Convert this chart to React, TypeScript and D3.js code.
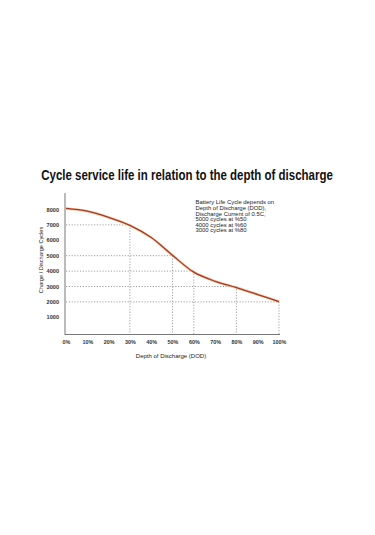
import React, { useEffect, useRef } from "react";
import * as d3 from "d3";

const depthPct = [0, 10, 20, 30, 40, 50, 60, 70, 80, 90, 100];
const cycles = [8070, 7890, 7490, 6970, 6180, 5030, 3930, 3340, 2930, 2480, 2020];
const yTicks = [1000, 2000, 3000, 4000, 5000, 6000, 7000, 8000];
const guidePoints = [
  { d: 30, c: 7000 },
  { d: 50, c: 5000 },
  { d: 60, c: 4000 },
  { d: 80, c: 3000 },
  { d: 100, c: 2000 },
];
const noteLines = [
  "Battery Life Cycle depends on",
  "Depth of Discharge (DOD),",
  "Discharge Current of 0.5C,",
  "5000 cycles at %50",
  "4000 cycles at %60",
  "3000 cycles at %80",
];

export default function App() {
  const ref = useRef<SVGSVGElement>(null);

  useEffect(() => {
    const svg = d3.select(ref.current);
    svg.selectAll("*").remove();

    const width = 375;
    const height = 535;
    svg.attr("width", width).attr("height", height);
    svg.append("rect").attr("width", width).attr("height", height).attr("fill", "#fff");

    const x = d3.scaleLinear().domain([0, 100]).range([66, 279]);
    const y = d3.scaleLinear().domain([0, 8000]).range([332.7, 209.5]);

    // title, squeezed horizontally to match the condensed face
    const title = svg.append("text")
      .attr("x", 0)
      .attr("y", 0)
      .attr("text-anchor", "middle")
      .attr("font-family", "Liberation Sans Narrow, Arial Narrow, Liberation Sans, sans-serif")
      .attr("font-weight", "bold")
      .attr("font-size", 14)
      .attr("fill", "#111")
      .text("Cycle service life in relation to the depth of discharge");
    const tw = (title.node() as SVGTextElement).getBBox().width || 292;
    title.attr("transform", `translate(187,180) scale(${292 / tw},1)`);

    // dotted guides
    const g = svg.append("g")
      .attr("stroke", "#888")
      .attr("stroke-width", 0.8)
      .attr("stroke-dasharray", "1.2,1.6");
    guidePoints.forEach(p => {
      g.append("line")
        .attr("x1", x(0)).attr("x2", x(p.d))
        .attr("y1", y(p.c)).attr("y2", y(p.c));
      g.append("line")
        .attr("x1", x(p.d)).attr("x2", x(p.d))
        .attr("y1", y(p.c)).attr("y2", y(0) + 1.5);
    });

    // axes
    svg.append("line")
      .attr("x1", 65).attr("x2", 65)
      .attr("y1", 193).attr("y2", 335)
      .attr("stroke", "#777").attr("stroke-width", 1);
    svg.append("line")
      .attr("x1", 65).attr("x2", 280)
      .attr("y1", 334.5).attr("y2", 334.5)
      .attr("stroke", "#777").attr("stroke-width", 1);

    const font = "Liberation Sans, Arial, sans-serif";

    svg.append("g")
      .selectAll("text")
      .data(yTicks)
      .enter()
      .append("text")
      .attr("x", 59)
      .attr("y", d => y(d) + 2)
      .attr("text-anchor", "end")
      .attr("font-family", font)
      .attr("font-weight", "bold")
      .attr("font-size", 5.6)
      .attr("fill", "#333")
      .text(d => d);

    svg.append("g")
      .selectAll("text")
      .data(depthPct)
      .enter()
      .append("text")
      .attr("x", d => x(d) + 0.5)
      .attr("y", 344)
      .attr("text-anchor", "middle")
      .attr("font-family", font)
      .attr("font-weight", "bold")
      .attr("font-size", 5.4)
      .attr("fill", "#333")
      .text(d => d + "%");

    svg.append("text")
      .attr("x", 171)
      .attr("y", 357.5)
      .attr("text-anchor", "middle")
      .attr("font-family", font)
      .attr("font-size", 6)
      .attr("fill", "#222")
      .text("Depth of Discharge (DOD)");

    svg.append("text")
      .attr("transform", "translate(42.5,260) rotate(-90)")
      .attr("text-anchor", "middle")
      .attr("font-family", font)
      .attr("font-size", 5.6)
      .attr("fill", "#222")
      .text("Charge / Discharge Cycles");

    // note
    svg.append("g")
      .selectAll("text")
      .data(noteLines)
      .enter()
      .append("text")
      .attr("x", 195.5)
      .attr("y", (d, i) => 204.3 + i * 5.6)
      .attr("font-family", font)
      .attr("font-size", 5.9)
      .attr("fill", "#222")
      .text(d => d);

    // curve
    const line = d3.line<number>()
      .x((d, i) => x(depthPct[i]))
      .y(d => y(d))
      .curve(d3.curveCatmullRom.alpha(0.5));

    svg.append("path")
      .datum(cycles)
      .attr("d", line)
      .attr("fill", "none")
      .attr("stroke", "#f0a070")
      .attr("stroke-opacity", 0.6)
      .attr("stroke-width", 2.6);
    svg.append("path")
      .datum(cycles)
      .attr("d", line)
      .attr("fill", "none")
      .attr("stroke", "#a83a1c")
      .attr("stroke-width", 1.3);
  }, []);

  return (
    <svg
      ref={ref}
      style={{ position: "absolute", left: 0, top: 0, display: "block" }}
    ></svg>
  );
}
